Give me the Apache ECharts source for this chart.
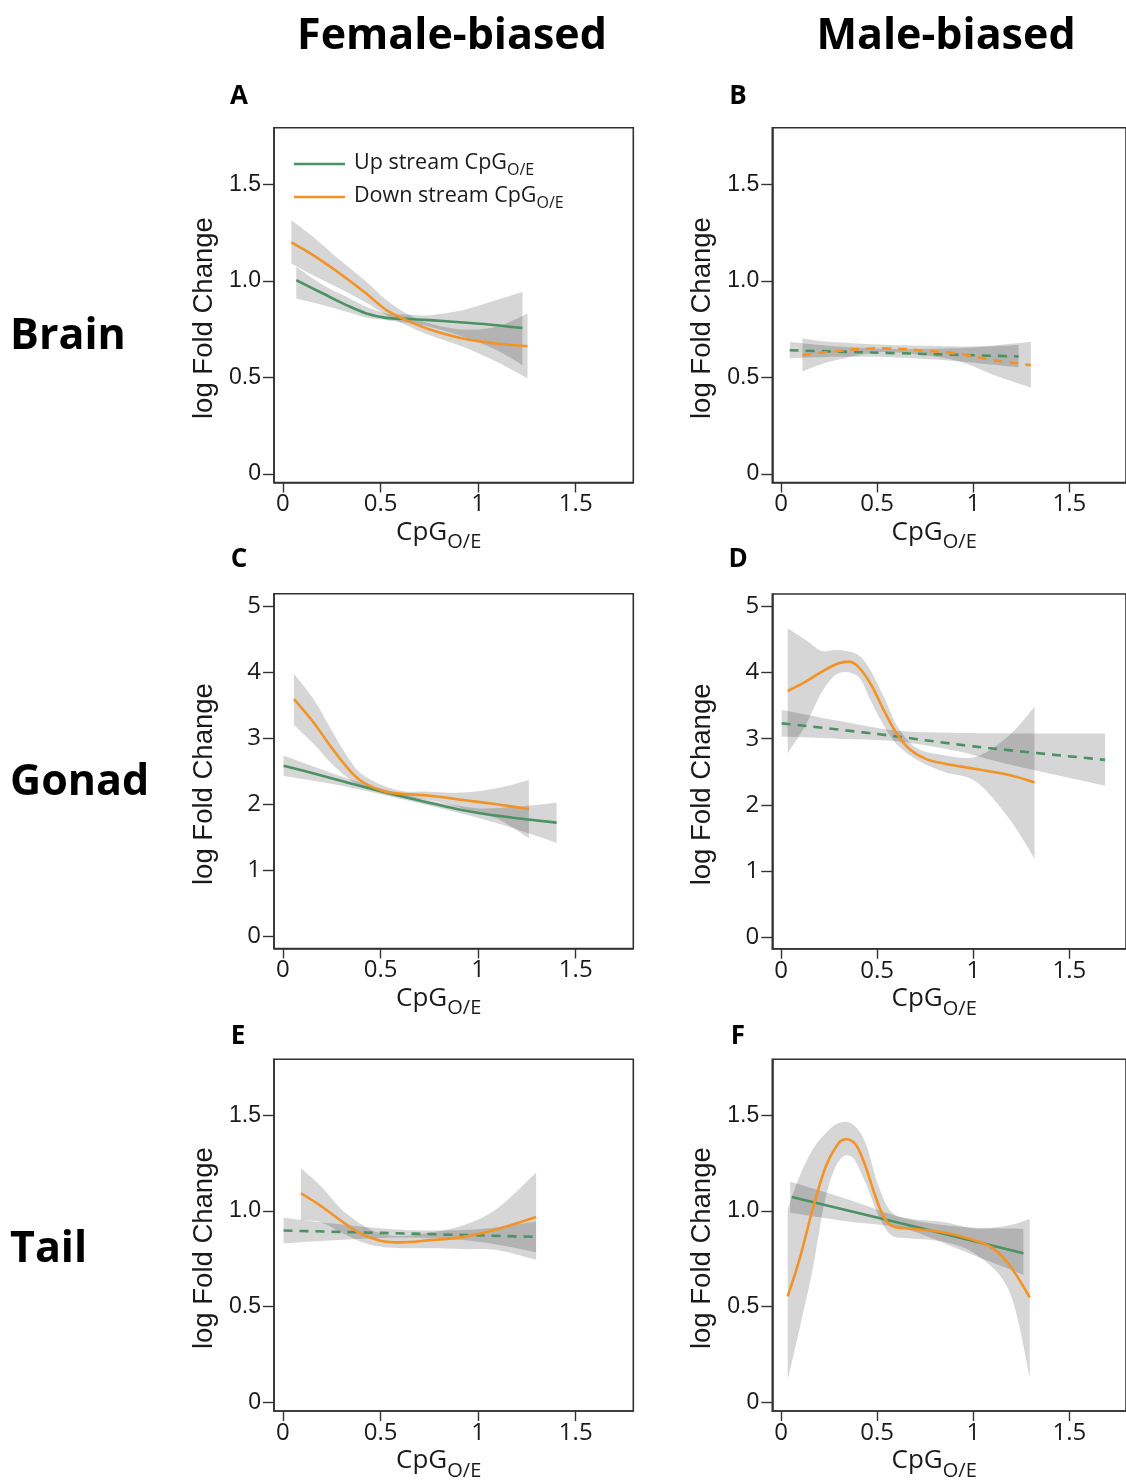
<!DOCTYPE html>
<html><head><meta charset="utf-8">
<script src="https://cdn.jsdelivr.net/npm/echarts@6/dist/echarts.min.js"></script>
<style>html,body{margin:0;padding:0;background:#fff}#c{width:1126px;height:1482px}</style>
</head><body><div id="c"></div><script>
// ---------- tick labels ----------
const X_TICKS = [0, 0.5, 1, 1.5];
const Y_TICKS_SMALL = [0, 0.5, 1.0, 1.5];
const Y_TICKS_GONAD = [0, 1, 2, 3, 4, 5];
const COL_TITLES = ['Female-biased', 'Male-biased'];
const ROW_TITLES = ['Brain', 'Gonad', 'Tail'];
const PANEL_LETTERS = ['A', 'B', 'C', 'D', 'E', 'F'];
const SERIES_NAMES = ['Up stream CpG', 'Down stream CpG'];

// ---------- Panel A (Brain, female-biased) ----------
const A_up_x = [0.068, 0.205, 0.325, 0.427, 0.53, 0.632, 0.752, 0.923, 1.094, 1.227];
const A_up_y = [1.003, 0.934, 0.874, 0.831, 0.808, 0.803, 0.796, 0.784, 0.770, 0.755];
const A_up_hi = [1.073, 0.978, 0.917, 0.865, 0.831, 0.825, 0.822, 0.848, 0.900, 0.943];
const A_up_lo = [0.908, 0.874, 0.839, 0.810, 0.796, 0.782, 0.762, 0.710, 0.641, 0.563];
const A_dn_x = [0.043, 0.154, 0.291, 0.427, 0.53, 0.632, 0.752, 0.923, 1.094, 1.253];
const A_dn_y = [1.199, 1.133, 1.038, 0.934, 0.848, 0.796, 0.748, 0.701, 0.675, 0.661];
const A_dn_hi = [1.314, 1.228, 1.107, 0.995, 0.900, 0.831, 0.779, 0.748, 0.762, 0.831];
const A_dn_lo = [1.090, 1.029, 0.960, 0.886, 0.822, 0.770, 0.718, 0.658, 0.580, 0.494];

// ---------- Panel B (Brain, male-biased) ----------
const B_up_x = [0.045, 0.3, 0.6, 0.9, 1.236];
const B_up_y = [0.640, 0.633, 0.625, 0.617, 0.608];
const B_up_hi = [0.683, 0.660, 0.647, 0.650, 0.667];
const B_up_lo = [0.598, 0.606, 0.603, 0.585, 0.552];
const B_dn_x = [0.111, 0.252, 0.508, 0.763, 0.934, 1.104, 1.30];
const B_dn_y = [0.615, 0.632, 0.650, 0.637, 0.620, 0.589, 0.563];
const B_dn_hi = [0.701, 0.684, 0.670, 0.663, 0.660, 0.665, 0.684];
const B_dn_lo = [0.529, 0.580, 0.630, 0.612, 0.580, 0.513, 0.446];

// ---------- Panel C (Gonad, female-biased) ----------
const C_up_x = [0.003, 0.154, 0.325, 0.496, 0.667, 0.838, 1.009, 1.179, 1.402];
const C_up_y = [2.587, 2.471, 2.335, 2.204, 2.083, 1.967, 1.866, 1.800, 1.725];
const C_up_hi = [2.738, 2.580, 2.400, 2.244, 2.120, 2.010, 1.940, 1.960, 2.027];
const C_up_lo = [2.431, 2.360, 2.270, 2.160, 2.040, 1.920, 1.790, 1.640, 1.422];
const C_dn_x = [0.056, 0.154, 0.239, 0.325, 0.393, 0.496, 0.581, 0.752, 0.923, 1.094, 1.26];
const C_dn_y = [3.596, 3.253, 2.900, 2.572, 2.370, 2.219, 2.168, 2.133, 2.068, 2.002, 1.931];
const C_dnb_x = [0.056, 0.154, 0.239, 0.325, 0.41, 0.581, 0.752, 0.923, 1.094, 1.26];
const C_dn_hi = [3.984, 3.606, 3.177, 2.748, 2.446, 2.219, 2.194, 2.180, 2.244, 2.370];
const C_dn_lo = [3.202, 2.925, 2.648, 2.421, 2.269, 2.118, 2.068, 1.940, 1.790, 1.488];

// ---------- Panel D (Gonad, male-biased) ----------
const D_up_x = [0.003, 0.503, 1.015, 1.686];
const D_up_y = [3.232, 3.070, 2.880, 2.680];
const D_upb_x = [0.003, 0.3, 0.6, 0.9, 1.2, 1.686];
const D_up_hi = [3.434, 3.270, 3.120, 3.090, 3.080, 3.080];
const D_up_lo = [3.030, 3.000, 2.960, 2.820, 2.600, 2.288];
const D_dn_x = [0.034, 0.128, 0.213, 0.299, 0.35, 0.401, 0.469, 0.538, 0.606, 0.674, 0.759, 0.845, 1.015, 1.186, 1.319];
const D_dn_y = [3.722, 3.864, 4.015, 4.141, 4.167, 4.091, 3.813, 3.409, 3.056, 2.828, 2.687, 2.626, 2.540, 2.449, 2.338];
const D_dnb_x = [0.034, 0.128, 0.213, 0.299, 0.401, 0.469, 0.538, 0.606, 0.708, 0.845, 1.015, 1.186, 1.319];
const D_dn_hi = [4.672, 4.495, 4.328, 4.343, 4.268, 4.015, 3.611, 3.182, 2.854, 2.753, 2.727, 3.050, 3.485];
const D_dn_lo = [2.778, 3.207, 3.712, 3.990, 3.939, 3.560, 3.182, 2.904, 2.677, 2.500, 2.348, 1.793, 1.187];

// ---------- Panel E (Tail, female-biased) ----------
const E_up_x = [0.003, 0.65, 1.297];
const E_up_y = [0.898, 0.882, 0.865];
const E_upb_x = [0.003, 0.3, 0.65, 1.0, 1.297];
const E_up_hi = [0.965, 0.930, 0.900, 0.905, 0.945];
const E_up_lo = [0.831, 0.850, 0.862, 0.840, 0.785];
const E_dn_x = [0.092, 0.191, 0.294, 0.396, 0.498, 0.601, 0.754, 0.925, 1.096, 1.297];
const E_dn_y = [1.093, 1.029, 0.952, 0.883, 0.845, 0.836, 0.848, 0.865, 0.905, 0.969];
const E_dn_hi = [1.223, 1.133, 1.015, 0.934, 0.883, 0.869, 0.888, 0.926, 1.012, 1.202];
const E_dn_lo = [0.952, 0.943, 0.890, 0.840, 0.815, 0.806, 0.805, 0.801, 0.796, 0.744];

// ---------- Panel F (Tail, male-biased) ----------
const F_up_x = [0.055, 0.65, 1.261];
const F_up_y = [1.073, 0.930, 0.779];
const F_upb_x = [0.047, 0.35, 0.65, 0.95, 1.261];
const F_up_hi = [1.154, 1.060, 0.960, 0.917, 0.908];
const F_up_lo = [0.991, 0.945, 0.905, 0.790, 0.667];
const F_dn_x = [0.034, 0.097, 0.165, 0.234, 0.302, 0.336, 0.387, 0.438, 0.489, 0.54, 0.591, 0.677, 0.847, 1.018, 1.103, 1.188, 1.294];
const F_dn_y = [0.554, 0.753, 1.012, 1.237, 1.358, 1.375, 1.349, 1.237, 1.081, 0.960, 0.917, 0.908, 0.888, 0.843, 0.805, 0.718, 0.549];
const F_dnb_x = [0.034, 0.097, 0.165, 0.234, 0.302, 0.371, 0.438, 0.506, 0.574, 0.677, 0.847, 1.018, 1.188, 1.294];
const F_dn_hi = [1.012, 1.185, 1.323, 1.409, 1.461, 1.453, 1.358, 1.133, 0.995, 0.960, 0.943, 0.908, 0.926, 0.960];
const F_dn_lo = [0.114, 0.390, 0.700, 1.081, 1.263, 1.280, 1.150, 0.977, 0.874, 0.857, 0.839, 0.770, 0.580, 0.131];

// ---------- styling / layout ----------
const GREEN = '#4a9163';
const ORANGE = '#f39325';
const BAND_FILL = 'rgba(0,0,0,0.16)';
const FRAME = '#333333';
const TEXT = '#1a1a1a';
const DASH = [9, 7];

const panels = [
  {left: 274, top: 127.7, gonad: false,
   up: [A_up_x, A_up_y, A_up_x, A_up_lo, A_up_hi, 'solid'],
   dn: [A_dn_x, A_dn_y, A_dn_x, A_dn_lo, A_dn_hi, 'solid']},
  {left: 772.3, top: 127.7, gonad: false,
   up: [B_up_x, B_up_y, B_up_x, B_up_lo, B_up_hi, DASH],
   dn: [B_dn_x, B_dn_y, B_dn_x, B_dn_lo, B_dn_hi, DASH]},
  {left: 274, top: 593.7, gonad: true,
   up: [C_up_x, C_up_y, C_up_x, C_up_lo, C_up_hi, 'solid'],
   dn: [C_dn_x, C_dn_y, C_dnb_x, C_dn_lo, C_dn_hi, 'solid']},
  {left: 772.3, top: 594, gonad: true,
   up: [D_up_x, D_up_y, D_upb_x, D_up_lo, D_up_hi, DASH],
   dn: [D_dn_x, D_dn_y, D_dnb_x, D_dn_lo, D_dn_hi, 'solid']},
  {left: 274, top: 1059.3, gonad: false,
   up: [E_up_x, E_up_y, E_upb_x, E_up_lo, E_up_hi, DASH],
   dn: [E_dn_x, E_dn_y, E_dn_x, E_dn_lo, E_dn_hi, 'solid']},
  {left: 772.3, top: 1059.3, gonad: false,
   up: [F_up_x, F_up_y, F_upb_x, F_up_lo, F_up_hi, 'solid'],
   dn: [F_dn_x, F_dn_y, F_dnb_x, F_dn_lo, F_dn_hi, 'solid']}
];
const PANEL_W = 359.3, PANEL_H = 354.8;

function smoothSeg(pts) {
  let d = '';
  for (let i = 0; i < pts.length - 1; i++) {
    const p0 = pts[i - 1] || pts[i], p1 = pts[i], p2 = pts[i + 1], p3 = pts[i + 2] || pts[i + 1];
    const c1 = [p1[0] + (p2[0] - p0[0]) / 6, p1[1] + (p2[1] - p0[1]) / 6];
    const c2 = [p2[0] - (p3[0] - p1[0]) / 6, p2[1] - (p3[1] - p1[1]) / 6];
    d += ' C' + c1[0] + ',' + c1[1] + ' ' + c2[0] + ',' + c2[1] + ' ' + p2[0] + ',' + p2[1];
  }
  return d;
}

function bandSeries(gi, xs, lo, hi) {
  return {
    type: 'custom', xAxisIndex: gi, yAxisIndex: gi, silent: true, z: 1, clip: true,
    data: xs.map((x, i) => [x, lo[i], hi[i]]),
    renderItem: function (params, api) {
      if (params.dataIndex !== 0) return null;
      const up = [], low = [];
      for (let i = 0; i < xs.length; i++) up.push(api.coord([xs[i], hi[i]]));
      for (let i = xs.length - 1; i >= 0; i--) low.push(api.coord([xs[i], lo[i]]));
      const d = 'M' + up[0][0] + ',' + up[0][1] + smoothSeg(up) +
        ' L' + low[0][0] + ',' + low[0][1] + smoothSeg(low) + ' Z';
      return {type: 'path', shape: {pathData: d}, style: {fill: BAND_FILL}};
    }
  };
}

function lineSeries(gi, name, xs, ys, color, type) {
  return {
    type: 'line', name: name, xAxisIndex: gi, yAxisIndex: gi, z: 3, silent: true,
    data: xs.map((x, i) => [x, ys[i]]), smooth: 0.35, symbol: 'none', showSymbol: false,
    lineStyle: {color: color, width: 2.6, type: type}, itemStyle: {color: color}
  };
}

const subRich = {
  m: {fontFamily: 'Open Sans', fontSize: 26, color: TEXT, lineHeight: 28, verticalAlign: 'top'},
  s: {fontFamily: 'Open Sans', fontSize: 20, color: TEXT, lineHeight: 20, verticalAlign: 'top', padding: [13, 0, 0, 0]}
};

const grids = [], xAxes = [], yAxes = [], series = [];
panels.forEach((p, gi) => {
  grids.push({left: p.left, top: p.top, width: PANEL_W, height: PANEL_H, show: true,
    borderColor: FRAME, borderWidth: 1.6, backgroundColor: 'transparent', containLabel: false});
  xAxes.push({
    type: 'value', gridIndex: gi, min: -0.046, max: 1.795,
    axisLine: {show: true, onZero: false, lineStyle: {color: FRAME, width: 1.6}},
    axisTick: {show: true, length: 10, customValues: X_TICKS, lineStyle: {color: FRAME, width: 1.4}},
    axisLabel: {customValues: X_TICKS, margin: 10, fontFamily: 'Open Sans', fontSize: 24, color: TEXT,
      formatter: v => String(v)},
    splitLine: {show: false},
    name: '{m|CpG}{s|O/E}', nameLocation: 'middle', nameGap: 37,
    nameTextStyle: {rich: subRich, padding: [0, 30, 0, 0]}
  });
  const yt = p.gonad ? Y_TICKS_GONAD : Y_TICKS_SMALL;
  yAxes.push({
    type: 'value', gridIndex: gi,
    min: p.gonad ? -0.18 : -0.045, max: p.gonad ? 5.19 : 1.793,
    axisLine: {show: true, onZero: false, lineStyle: {color: FRAME, width: 1.6}},
    axisTick: {show: true, length: 11, customValues: yt, lineStyle: {color: FRAME, width: 1.4}},
    axisLabel: {customValues: yt, margin: 13,
      fontFamily: p.gonad ? 'Open Sans' : 'Liberation Sans', fontSize: p.gonad ? 24 : 23, color: TEXT,
      formatter: v => p.gonad ? String(v) : (v === 0 ? '0' : v.toFixed(1))},
    splitLine: {show: false},
    name: 'log Fold Change', nameLocation: 'middle', nameGap: 56,
    nameTextStyle: {fontFamily: 'Liberation Sans', fontSize: 27.5, color: TEXT, padding: [0, 26, 0, 0]}
  });
  const suffix = gi === 0 ? '' : ' ' + PANEL_LETTERS[gi];
  series.push(bandSeries(gi, p.up[2], p.up[3], p.up[4]));
  series.push(bandSeries(gi, p.dn[2], p.dn[3], p.dn[4]));
  series.push(lineSeries(gi, SERIES_NAMES[0] + suffix, p.up[0], p.up[1], GREEN, p.up[5]));
  series.push(lineSeries(gi, SERIES_NAMES[1] + suffix, p.dn[0], p.dn[1], ORANGE, p.dn[5]));
});

const graphics = [];
const colCenters = [452, 946];
COL_TITLES.forEach((t, i) => graphics.push({type: 'text', x: colCenters[i], y: 37,
  style: {text: t, fontFamily: 'Open Sans', fontWeight: 'bold', fontSize: 43, fill: '#000',
    align: 'center', verticalAlign: 'middle'}}));
const rowCenters = [337, 783, 1250];
ROW_TITLES.forEach((t, i) => graphics.push({type: 'text', x: 10, y: rowCenters[i],
  style: {text: t, fontFamily: 'Open Sans', fontWeight: 'bold', fontSize: 43, fill: '#000',
    align: 'left', verticalAlign: 'middle'}}));
const letterPos = [[239, 97], [738, 97], [239, 560], [738, 560], [238, 1037], [738, 1037]];
PANEL_LETTERS.forEach((t, i) => graphics.push({type: 'text', x: letterPos[i][0], y: letterPos[i][1],
  style: {text: t, fontFamily: 'Open Sans', fontWeight: 'bold', fontSize: 26, fill: '#000',
    align: 'center', verticalAlign: 'middle'}}));

const chart = echarts.init(document.getElementById('c'), null, {renderer: 'canvas'});
chart.setOption({
  animation: false,
  backgroundColor: '#ffffff',
  grid: grids, xAxis: xAxes, yAxis: yAxes, series: series,
  legend: {
    data: SERIES_NAMES, left: 294, top: 152, orient: 'vertical', padding: 0,
    icon: 'rect', itemWidth: 51, itemHeight: 2.6, itemGap: 7, selectedMode: false,
    formatter: n => '{a|' + n + '}{b|O/E}',
    textStyle: {padding: [0, 0, 0, 4], rich: {
      a: {fontFamily: 'Open Sans', fontSize: 21.5, color: TEXT, lineHeight: 24, verticalAlign: 'top'},
      b: {fontFamily: 'Open Sans', fontSize: 16, color: TEXT, lineHeight: 16, verticalAlign: 'top', padding: [10, 0, 0, 0]}
    }}
  },
  graphic: graphics
});
</script></body></html>
